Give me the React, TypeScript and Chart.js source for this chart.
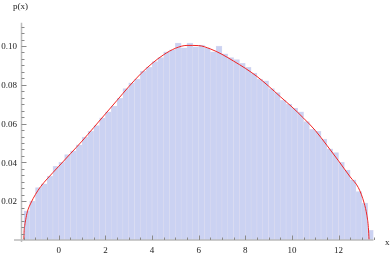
import React, { useEffect, useRef } from "react";
import { Chart, registerables } from "chart.js";
Chart.register(...registerables);

const binCenters = [
  -1.375, -1.125, -0.875, -0.625, -0.375, -0.125, 0.125, 0.375, 0.625, 0.875,
  1.125, 1.375, 1.625, 1.875, 2.125, 2.375, 2.625, 2.875, 3.125, 3.375,
  3.625, 3.875, 4.125, 4.375, 4.625, 4.875, 5.125, 5.375, 5.625, 5.875,
  6.125, 6.375, 6.625, 6.875, 7.125, 7.375, 7.625, 7.875, 8.125, 8.375,
  8.625, 8.875, 9.125, 9.375, 9.625, 9.875, 10.125, 10.375, 10.625, 10.875,
  11.125, 11.375, 11.625, 11.875, 12.125, 12.375, 12.625, 12.875, 13.125, 13.375,
];
const binHeights = [
  0.015, 0.02, 0.027, 0.029, 0.033, 0.038, 0.04, 0.044, 0.046, 0.049,
  0.053, 0.056, 0.059, 0.063, 0.066, 0.069, 0.073, 0.078, 0.081, 0.083,
  0.087, 0.089, 0.092, 0.094, 0.097, 0.098, 0.1015, 0.099, 0.1015, 0.0995,
  0.1005, 0.099, 0.097, 0.1, 0.096, 0.094, 0.093, 0.091, 0.089, 0.086,
  0.083, 0.082, 0.078, 0.076, 0.072, 0.07, 0.068, 0.066, 0.061, 0.057,
  0.056, 0.052, 0.047, 0.045, 0.04, 0.036, 0.031, 0.025, 0.019, 0.005,
];
const curveX = [
  -1.5, -1.49, -1.46, -1.42, -1.35, -1.2, -1.0, -0.78, -0.5, 0, 0.5, 1.0, 1.5,
  2.0, 2.5, 3.0, 3.5, 4.0, 4.5, 5.0, 5.5, 6.0, 6.5, 7.0, 7.5, 8.0, 8.5, 9.0,
  9.5, 10.0, 10.5, 11.0, 11.5, 12.0, 12.5, 12.85, 13.1, 13.22, 13.28, 13.31,
];
const curveY = [
  0, 0.004, 0.0075, 0.0105, 0.0145, 0.019, 0.0235, 0.0275, 0.0315, 0.038,
  0.0445, 0.051, 0.058, 0.065, 0.072, 0.079, 0.0855, 0.091, 0.0955, 0.0988,
  0.1003, 0.1002, 0.0985, 0.0957, 0.0922, 0.0885, 0.0843, 0.0793, 0.0739,
  0.0686, 0.0628, 0.0565, 0.0488, 0.0408, 0.0325, 0.027, 0.019, 0.0125, 0.0065, 0,
];
const xTickValues = [0, 2, 4, 6, 8, 10, 12];
const xTickLabels = ["0", "2", "4", "6", "8", "10", "12"];
const yTickValues = [0.02, 0.04, 0.06, 0.08, 0.1];
const yTickLabels = ["0.02", "0.04", "0.06", "0.08", "0.10"];
const xTitle = "x";
const yTitle = "p(x)";

const FONT = '9px "Liberation Serif", "DejaVu Serif", serif';

const axesPlugin = {
  id: "mmaAxes",
  afterDatasetsDraw(chart: any) {
    const { ctx, chartArea } = chart;
    const xs = chart.scales.x;
    const ys = chart.scales.y;
    const x0 = chartArea.left;
    const y0 = ys.getPixelForValue(0);
    ctx.save();
    ctx.strokeStyle = "#bcbcbc";
    ctx.lineWidth = 1.5;
    ctx.beginPath();
    ctx.moveTo(14, y0);
    ctx.lineTo(chartArea.right, y0);
    ctx.moveTo(x0, y0 + 2);
    ctx.lineTo(x0, chartArea.top);
    ctx.stroke();
    ctx.strokeStyle = "#8a8a8a";
    ctx.lineWidth = 1;
    ctx.beginPath();
    for (let v = -1.5; v <= 13.5001; v += 0.5) {
      const px = Math.round(xs.getPixelForValue(v)) + 0.5;
      const major = xTickValues.some((t) => Math.abs(t - v) < 1e-6);
      ctx.moveTo(px, y0);
      ctx.lineTo(px, y0 - (major ? 4.5 : 2.5));
    }
    const yStep = 0.02 / 6;
    for (let i = 1; i * yStep <= ys.max; i++) {
      const v = i * yStep;
      const py = Math.round(ys.getPixelForValue(v)) + 0.5;
      const major = i % 6 === 0;
      ctx.moveTo(x0, py);
      ctx.lineTo(x0 + (major ? 5 : 3), py);
    }
    ctx.stroke();
    ctx.fillStyle = "#222";
    ctx.font = FONT;
    ctx.textAlign = "center";
    ctx.textBaseline = "alphabetic";
    xTickValues.forEach((v, i) => {
      ctx.fillText(xTickLabels[i], xs.getPixelForValue(v), y0 + 13);
    });
    ctx.textAlign = "right";
    yTickValues.forEach((v, i) => {
      ctx.fillText(yTickLabels[i], x0 - 4.5, ys.getPixelForValue(v) + 3.2);
    });
    ctx.textAlign = "left";
    ctx.fillText(xTitle, 385, y0 + 4.5);
    ctx.fillText(yTitle, 13, 9);
    ctx.restore();
  },
};

export default function App() {
  const ref = useRef<HTMLCanvasElement | null>(null);
  useEffect(() => {
    if (!ref.current) return;
    const chart = new Chart(ref.current, {
      type: "bar",
      data: {
        datasets: [
          {
            type: "line",
            data: curveX.map((x, i) => ({ x, y: curveY[i] })),
            borderColor: "rgb(240,36,36)",
            borderWidth: 1,
            pointRadius: 0,
            cubicInterpolationMode: "monotone",
            fill: false,
            order: 0,
          } as any,
          {
            type: "bar",
            data: binCenters.map((x, i) => ({ x, y: binHeights[i] })),
            backgroundColor: "rgb(203,210,242)",
            borderColor: "rgb(222,221,240)",
            borderWidth: 0.5,
            borderSkipped: "bottom",
            barPercentage: 1,
            categoryPercentage: 1,
            order: 1,
          } as any,
        ],
      },
      options: {
        responsive: false,
        animation: false,
        maintainAspectRatio: false,
        layout: { padding: { left: 21.5, right: 18.5, top: 22.7, bottom: 15 } },
        plugins: { legend: { display: false }, tooltip: { enabled: false } },
        scales: {
          x: { type: "linear", min: -1.6, max: 13.5, display: false, offset: false },
          y: { type: "linear", min: 0, max: 0.112, display: false },
        },
      },
      plugins: [axesPlugin],
    });
    return () => chart.destroy();
  }, []);
  return (
    <div style={{ position: "fixed", left: 0, top: 0, width: 392, height: 255, background: "#fff" }}>
      <canvas ref={ref} width={392} height={255} style={{ width: 392, height: 255 }} />
    </div>
  );
}
